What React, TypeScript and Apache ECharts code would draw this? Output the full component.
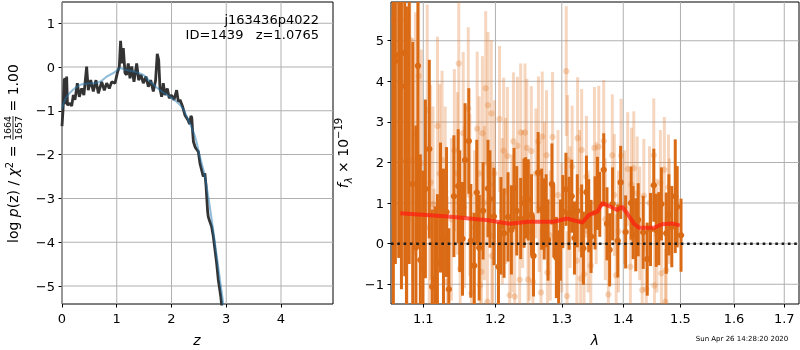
import React, { useEffect, useRef } from "react";
import * as echarts from "echarts";

// ---------- Left panel: redshift probability ----------
const zBlack = [0.0, 0.02, 0.04, 0.055, 0.07, 0.085, 0.1, 0.146, 0.177, 0.207, 0.237, 0.28, 0.316, 0.36, 0.4, 0.45, 0.48, 0.524, 0.572, 0.62, 0.664, 0.725, 0.773, 0.816, 0.864, 0.907, 0.968, 1.01, 1.047, 1.07, 1.096, 1.12, 1.151, 1.18, 1.21, 1.242, 1.273, 1.315, 1.364, 1.4, 1.443, 1.485, 1.534, 1.577, 1.62, 1.668, 1.71, 1.74, 1.766, 1.79, 1.82, 1.85, 1.88, 1.923, 1.96, 2.0, 2.046, 2.094, 2.125, 2.155, 2.204, 2.246, 2.3, 2.33, 2.355, 2.37, 2.385, 2.4, 2.43, 2.447, 2.49, 2.52, 2.55, 2.58, 2.61, 2.63, 2.66, 2.672, 2.7, 2.734, 2.764, 2.795, 2.825, 2.855, 2.9, 2.93];
const logpBlack = [-1.35, -0.95, -0.3, -0.26, -0.85, -0.22, -0.87, -0.83, -0.89, -0.64, -0.75, -0.37, -0.68, -0.49, -0.64, 0.01, -0.53, -0.3, -0.56, -0.3, -0.6, -0.34, -0.53, -0.37, -0.49, -0.34, -0.37, -0.14, 0.01, 0.6, 0.08, 0.43, -0.14, -0.18, 0.08, -0.26, 0.01, -0.34, 0.08, -0.3, -0.18, -0.37, -0.22, -0.45, -0.3, -0.56, -0.3, 0.3, 0.16, -0.49, -0.68, -0.37, -0.64, -0.49, -0.71, -0.64, -0.75, -0.53, -0.79, -0.75, -0.91, -1.1, -1.21, -1.3, -1.12, -1.15, -1.45, -1.7, -1.82, -1.86, -1.93, -2.2, -2.35, -2.5, -2.43, -2.7, -3.3, -3.42, -3.53, -3.65, -3.87, -4.18, -4.48, -4.86, -5.24, -5.6];
const zSmooth = [0, 0.085, 0.33, 0.57, 0.69, 0.816, 0.97, 1.06, 1.18, 1.33, 1.485, 1.6, 1.79, 2.03, 2.186, 2.307, 2.43, 2.52, 2.61, 2.7, 2.795, 2.886, 2.946, 2.96];
const logpSmooth = [-0.95, -0.68, -0.41, -0.37, -0.34, -0.22, -0.11, -0.03, -0.07, -0.11, -0.18, -0.32, -0.53, -0.73, -0.91, -1.21, -1.59, -2.05, -2.5, -3.19, -4.03, -4.86, -5.41, -5.6];
const zTicks = [0, 1, 2, 3, 4];
const logpTicks = [-5, -4, -3, -2, -1, 0, 1];

// ---------- Right panel: spectrum ----------
const darkLam = [1.061, 1.0636, 1.0679, 1.0714, 1.0757, 1.0779, 1.0815, 1.0861, 1.0903, 1.0929, 1.0961, 1.0996, 1.1028, 1.108, 1.1119, 1.1158, 1.1189, 1.1231, 1.1271, 1.1313, 1.1344, 1.1414, 1.1473, 1.1495, 1.1533, 1.1568, 1.1621, 1.1649, 1.1697, 1.1733, 1.1767, 1.1823, 1.1893, 1.1921, 1.1978, 1.2044, 1.208, 1.2125, 1.2184, 1.2233, 1.2273, 1.2312, 1.2371, 1.2421, 1.2445, 1.2485, 1.2534, 1.2564, 1.2634, 1.2688, 1.2727, 1.2757, 1.2786, 1.2846, 1.2875, 1.2915, 1.295, 1.2979, 1.3016, 1.3065, 1.3114, 1.3156, 1.32, 1.3245, 1.3315, 1.3343, 1.3392, 1.3429, 1.3467, 1.3532, 1.3571, 1.3609, 1.3674, 1.3728, 1.3772, 1.3821, 1.3907, 1.3956, 1.404, 1.4133, 1.4168, 1.4213, 1.4255, 1.4341, 1.4411, 1.4468, 1.4525, 1.4567, 1.4612, 1.4659, 1.4745, 1.4792, 1.4844, 1.4906, 1.4941, 1.501];
const darkFlux = [6.8, 4.5, 4.65, 3.88, 4.7, 2.04, 6.5, 1.47, -0.09, 4.38, -0.4, -0.6, 1.35, 2.33, -1.06, -0.88, -0.48, 0.89, 0.15, 0.78, -1.12, 1.17, 1.42, 0.8, 0.12, 2.06, 2.53, 0.07, -0.54, 1.26, -0.1, 0.81, 1.36, 1.1, 0.67, -0.57, 0.44, 0.26, 0.66, 0.34, 1.36, 0.81, 0.62, 1.0, 1.13, 1.08, 0.71, -0.3, 1.75, 0.85, 0.61, 0.81, 0.09, 1.47, 0.56, -0.34, -0.57, 0.09, 0.79, 1.34, 0.75, 1.17, 0.14, 0.81, 0.56, -0.11, 1.27, 0.69, 0.18, 0.76, 1.24, 0.97, 1.82, 0.49, -0.15, 0.98, 0.07, 1.51, 0.29, 1.0, 0.52, 0.22, 0.59, 0.28, -0.38, 0.35, 1.44, 0.33, 0.37, 0.98, 0.26, 0.71, 0.42, 1.17, 0.91, 0.21];
const darkErr = [8.5, 5.0, 5.0, 5.0, 5.5, 3.8, 7.0, 3.5, 3.0, 4.5, 2.6, 2.4, 2.2, 2.2, 1.9, 1.8, 1.7, 1.6, 1.7, 1.6, 1.5, 1.5, 1.4, 1.5, 1.4, 1.4, 1.3, 1.4, 1.3, 1.3, 1.3, 1.2, 1.2, 1.2, 1.2, 1.1, 1.2, 1.1, 1.1, 1.1, 1.0, 1.1, 1.0, 1.1, 1.0, 1.0, 1.0, 1.0, 1.0, 1.0, 1.0, 0.9, 1.0, 1.0, 0.9, 1.0, 0.9, 1.0, 0.9, 0.9, 0.9, 0.9, 0.9, 0.9, 0.9, 0.9, 0.9, 0.9, 0.9, 0.9, 0.9, 0.8, 0.9, 0.9, 0.9, 0.9, 0.9, 0.9, 0.9, 0.9, 0.9, 0.9, 0.9, 0.9, 0.9, 0.9, 0.9, 0.9, 0.9, 0.9, 1.0, 1.0, 1.0, 1.4, 1.0, 0.9];

const lightLam = [1.0584, 1.07, 1.0788, 1.0822, 1.0861, 1.0896, 1.0939, 1.0974, 1.1052, 1.1098, 1.113, 1.1144, 1.122, 1.1252, 1.1295, 1.1323, 1.1463, 1.1481, 1.1501, 1.1543, 1.1613, 1.1635, 1.1659, 1.1739, 1.1767, 1.1781, 1.1799, 1.1813, 1.186, 1.1884, 1.1893, 1.194, 1.1949, 1.1986, 1.2059, 1.2119, 1.2174, 1.2208, 1.2263, 1.2282, 1.2322, 1.2356, 1.2371, 1.2436, 1.2463, 1.2481, 1.253, 1.2555, 1.26, 1.2638, 1.2678, 1.2697, 1.2763, 1.2777, 1.2856, 1.307, 1.3082, 1.3091, 1.3163, 1.3238, 1.325, 1.3299, 1.3315, 1.3353, 1.3392, 1.3462, 1.3522, 1.3592, 1.3674, 1.3751, 1.3816, 1.3881, 1.3963, 1.4075, 1.4121, 1.4139, 1.4179, 1.4237, 1.4324, 1.4352, 1.4394, 1.4525, 1.4537, 1.4641, 1.4659, 1.4711, 1.4728, 1.4745, 1.4785,
  1.108, 1.119, 1.138, 1.142, 1.156, 1.17, 1.184, 1.196, 1.21, 1.215, 1.224, 1.24, 1.25, 1.265, 1.273, 1.282, 1.294, 1.3, 1.313, 1.328, 1.342, 1.355, 1.37, 1.385, 1.392, 1.402, 1.428, 1.445, 1.458, 1.48];
const lightFlux = [5.51, 5.51, 1.86, 5.03, 2.06, 2.7, 4.13, 1.98, 3.29, 1.51, 0.98, -0.85, 1.73, 2.06, 1.28, -0.94, 1.73, 4.44, -0.62, 2.72, 3.33, 1.2, -1.22, 2.83, 1.73, -1.03, -0.69, 2.72, 3.83, -1.43, 3.41, 3.21, -0.3, 1.73, 3.07, 2.29, 2.16, -1.27, 2.52, -1.3, 2.41, -0.89, 2.74, 2.74, 2.36, -0.88, 2.28, -0.94, 1.73, 2.52, -1.2, 2.64, 2.18, -0.71, 2.63, 4.25, -1.29, 2.06, 1.9, -0.42, 2.6, -0.86, 2.31, -0.75, 1.65, -0.54, 2.36, 2.39, 2.53, -1.25, 2.18, -0.78, 2.17, 1.84, -0.57, 1.46, 1.86, 1.24, -1.14, 1.18, -1.12, 2.18, -1.03, 1.5, -0.73, 1.82, -1.43, -0.65, 1.39,
  0.4, 2.9, 0.6, 2.3, 0.9, 0.4, 1.0, 0.2, 0.8, 1.3, 0.5, 1.1, 0.3, 0.9, 1.4, 0.2, 1.2, 0.4, 0.9, 1.3, 0.3, 1.0, 0.6, 1.2, 0.3, 0.9, 0.5, 1.0, 0.2, 0.8];
const lightErr = [5.0, 5.0, 3.5, 4.5, 3.0, 3.0, 3.0, 2.8, 2.6, 2.4, 2.4, 2.2, 2.2, 2.2, 2.1, 2.1, 2.0, 2.2, 2.0, 2.0, 2.0, 2.0, 2.0, 1.9, 1.9, 1.9, 1.9, 1.9, 1.9, 1.9, 1.8, 1.8, 1.8, 1.8, 1.8, 1.8, 1.7, 1.7, 1.7, 1.7, 1.7, 1.7, 1.7, 1.7, 1.7, 1.7, 1.6, 1.6, 1.6, 1.6, 1.6, 1.6, 1.6, 1.6, 1.6, 1.6, 1.6, 1.6, 1.5, 1.5, 1.5, 1.5, 1.5, 1.5, 1.5, 1.5, 1.5, 1.5, 1.5, 1.5, 1.5, 1.5, 1.4, 1.4, 1.4, 1.4, 1.4, 1.4, 1.4, 1.4, 1.4, 1.4, 1.4, 1.3, 1.3, 1.3, 1.3, 1.3, 1.3,
  2.3, 2.2, 2.0, 2.0, 2.0, 1.9, 1.9, 1.8, 1.8, 1.8, 1.7, 1.7, 1.7, 1.6, 1.6, 1.6, 1.6, 1.6, 1.5, 1.5, 1.5, 1.5, 1.5, 1.5, 1.5, 1.4, 1.4, 1.4, 1.4, 1.3];

const modelLam = [1.07, 1.1332, 1.1893, 1.2207, 1.2481, 1.2875, 1.3082, 1.3326, 1.3434, 1.3571, 1.3652, 1.3788, 1.3897, 1.3979, 1.4064, 1.4179, 1.4266, 1.4525, 1.4671, 1.4844, 1.4988];
const modelFlux = [0.75, 0.67, 0.58, 0.49, 0.54, 0.54, 0.62, 0.52, 0.71, 0.79, 1.0, 0.91, 0.83, 0.91, 0.75, 0.5, 0.39, 0.39, 0.48, 0.5, 0.45];

const lamTicks = [1.1, 1.2, 1.3, 1.4, 1.5, 1.6, 1.7];
const fluxTicks = [-1, 0, 1, 2, 3, 4, 5];

const FONT = "DejaVu Sans";
const GRID_COLOR = "#b0b0b0";
const LAM_MIN = 1.058;
const LAM_MAX = 1.7305;
const FLUX_MIN = -1.485;
const FLUX_MAX = 5.953;
const Z_MIN = 0;
const Z_MAX = 4.95;
const LP_MIN = -5.41;
const LP_MAX = 1.484;

const fmtMinus = (v: number) => (v < 0 ? "\u2212" + Math.abs(v) : String(v));

function errSeries(lam: number[], flux: number[], err: number[], color: string, z: number) {
  return {
    type: "custom",
    xAxisIndex: 1,
    yAxisIndex: 1,
    silent: true,
    z,
    clip: true,
    encode: { x: 0, y: 1 },
    data: lam.map((l, i) => [Math.log(l), flux[i], err[i]]),
    renderItem: (params: any, api: any) => {
      const x = api.value(0);
      const y = api.value(1);
      const e = api.value(2);
      const cs = params.coordSys;
      const top = api.coord([x, y + e]);
      const bot = api.coord([x, y - e]);
      const c = api.coord([x, y]);
      const y1 = Math.max(cs.y, top[1]);
      const y2 = Math.min(cs.y + cs.height, bot[1]);
      const children: any[] = [];
      if (y2 > y1) {
        children.push({
          type: "rect",
          shape: { x: c[0] - 1.5, y: y1, width: 3, height: y2 - y1 },
          style: { fill: color },
        });
      }
      if (c[1] >= cs.y && c[1] <= cs.y + cs.height) {
        children.push({
          type: "circle",
          shape: { cx: c[0], cy: c[1], r: 3.2 },
          style: { fill: color },
        });
      }
      return { type: "group", children };
    },
  };
}

function axisCommon() {
  return {
    axisLine: { show: false, onZero: false },
    splitLine: { show: false },
  };
}

export default function App() {
  const ref = useRef<HTMLDivElement>(null);
  useEffect(() => {
    if (!ref.current) return;
    const chart = echarts.init(ref.current, null, { renderer: "svg" });
    const lnLamTicks = lamTicks.map((t) => Math.log(t));
    const lnMin = Math.log(LAM_MIN);
    const lnMax = Math.log(LAM_MAX);
    const labelStyle = { fontFamily: FONT, fontSize: 13, color: "#000" };

    const textGraphics: any[] = [
      {
        type: "text", z: 10,
        style: { text: "j163436p4022", x: 319, y: 19, align: "right", verticalAlign: "middle", textAlign: "right", textVerticalAlign: "middle", font: `13px "${FONT}"`, fill: "#000" },
      },
      {
        type: "text", z: 10,
        style: { text: "ID=1439   z=1.0765", x: 319, y: 34, align: "right", verticalAlign: "middle", textAlign: "right", textVerticalAlign: "middle", font: `13px "${FONT}"`, fill: "#000" },
      },
      {
        type: "text", z: 10,
        style: { text: "z", x: 197, y: 340, align: "center", verticalAlign: "middle", textAlign: "center", textVerticalAlign: "middle", font: `italic 14px "${FONT}"`, fill: "#000" },
      },
      {
        type: "text", z: 10,
        style: { text: "λ", x: 595, y: 340, align: "center", verticalAlign: "middle", textAlign: "center", textVerticalAlign: "middle", font: `italic 14px "${FONT}"`, fill: "#000" },
      },
      {
        type: "text", z: 10,
        style: { text: "Sun Apr 26 14:28:20 2020", x: 742, y: 339, align: "center", verticalAlign: "middle", textAlign: "center", textVerticalAlign: "middle", font: `7px "${FONT}"`, fill: "#000" },
      },
      {
        type: "group", x: 13, y: 153, rotation: Math.PI / 2, z: 10,
        children: [
          {
            type: "text",
            style: {
              text: "{n|log }{i|p}{n|(z) / }{i|χ}{s|2}{n| = }",
              x: -90, y: 0, align: "left", verticalAlign: "middle", textAlign: "left", textVerticalAlign: "middle",
              fill: "#000",
              rich: {
                n: { fontFamily: FONT, fontSize: 14, lineHeight: 18, fill: "#000" },
                i: { fontFamily: FONT, fontSize: 14, fontStyle: "italic", lineHeight: 18, fill: "#000" },
                s: { fontFamily: FONT, fontSize: 10, lineHeight: 18, verticalAlign: "top", fill: "#000" },
              },
            },
          },
          {
            type: "text",
            style: { text: "1664", x: 25, y: -5.5, align: "center", verticalAlign: "middle", textAlign: "center", textVerticalAlign: "middle", font: `9.5px "${FONT}"`, fill: "#000" },
          },
          { type: "rect", shape: { x: 13, y: -0.4, width: 24, height: 0.8 }, style: { fill: "#000" } },
          {
            type: "text",
            style: { text: "1657", x: 25, y: 5.5, align: "center", verticalAlign: "middle", textAlign: "center", textVerticalAlign: "middle", font: `9.5px "${FONT}"`, fill: "#000" },
          },
          {
            type: "text",
            style: { text: " = 1.00", x: 37, y: 0, align: "left", verticalAlign: "middle", textAlign: "left", textVerticalAlign: "middle", font: `14px "${FONT}"`, fill: "#000" },
          },
        ],
      },
      {
        type: "group", x: 343, y: 153, rotation: Math.PI / 2, z: 10,
        children: [
          {
            type: "text",
            style: {
              text: "{i|f}{b|λ}{n| × 10}{s|−19}",
              x: 0, y: 0, align: "center", verticalAlign: "middle", textAlign: "center", textVerticalAlign: "middle",
              fill: "#000",
              rich: {
                n: { fontFamily: FONT, fontSize: 14, lineHeight: 20, fill: "#000" },
                i: { fontFamily: FONT, fontSize: 14, fontStyle: "italic", lineHeight: 20, fill: "#000" },
                b: { fontFamily: FONT, fontSize: 10, fontStyle: "italic", lineHeight: 20, verticalAlign: "bottom", fill: "#000" },
                s: { fontFamily: FONT, fontSize: 10, lineHeight: 20, verticalAlign: "top", fill: "#000" },
              },
            },
          },
        ],
      },
    ];

    const option: any = {
      animation: false,
      grid: [
        { left: 62, top: 2, width: 271, height: 302, show: true, borderColor: "#000", borderWidth: 1, backgroundColor: "transparent", z: 0 },
        { left: 391, top: 2, width: 408, height: 302, show: true, borderColor: "#000", borderWidth: 1, backgroundColor: "transparent", z: 0 },
      ],
      xAxis: [
        {
          type: "value", gridIndex: 0, min: Z_MIN, max: Z_MAX, ...axisCommon(),
          axisTick: { show: true, length: 3.5, customValues: zTicks, lineStyle: { color: "#000" } },
          axisLabel: { ...labelStyle, margin: 8, customValues: zTicks, formatter: (v: number) => fmtMinus(v) },
        },
        {
          type: "value", gridIndex: 1, min: lnMin, max: lnMax, ...axisCommon(),
          axisTick: { show: true, length: 3.5, customValues: lnLamTicks, lineStyle: { color: "#000" } },
          axisLabel: { ...labelStyle, margin: 8, customValues: lnLamTicks, formatter: (v: number) => Math.exp(v).toFixed(1) },
        },
      ],
      yAxis: [
        {
          type: "value", gridIndex: 0, min: LP_MIN, max: LP_MAX, ...axisCommon(),
          axisTick: { show: true, length: 3.5, customValues: logpTicks, lineStyle: { color: "#000" } },
          axisLabel: { ...labelStyle, margin: 7, customValues: logpTicks, formatter: (v: number) => fmtMinus(v) },
        },
        {
          type: "value", gridIndex: 1, min: FLUX_MIN, max: FLUX_MAX, ...axisCommon(),
          axisTick: { show: true, length: 3.5, customValues: fluxTicks, lineStyle: { color: "#000" } },
          axisLabel: { ...labelStyle, margin: 7, customValues: fluxTicks, formatter: (v: number) => fmtMinus(v) },
        },
      ],
      series: [
        {
          type: "line", xAxisIndex: 0, yAxisIndex: 0, z: 3, symbol: "none", silent: true,
          lineStyle: { color: "#333333", width: 2.8 },
          data: zBlack.map((z, i) => [z, logpBlack[i]]),
        },
        {
          type: "line", xAxisIndex: 0, yAxisIndex: 0, z: 4, symbol: "none", silent: true, smooth: 0.3,
          lineStyle: { color: "rgba(31,119,180,0.5)", width: 2 },
          data: zSmooth.map((z, i) => [z, logpSmooth[i]]),
        },
        errSeries(lightLam, lightFlux, lightErr, "rgba(226,118,40,0.3)", 2),
        errSeries(darkLam, darkFlux, darkErr, "#da6a14", 3),
        {
          type: "line", xAxisIndex: 1, yAxisIndex: 1, z: 5, symbol: "none", silent: true,
          lineStyle: { color: "rgba(255,25,15,0.7)", width: 4 },
          data: modelLam.map((l, i) => [Math.log(l), modelFlux[i]]),
        },
        {
          type: "line", xAxisIndex: 1, yAxisIndex: 1, z: 6, symbol: "none", silent: true,
          lineStyle: { color: "#1a1a1a", width: 2.4, type: [2.6, 3.7] },
          data: [[lnMin, 0], [lnMax, 0]],
        },
      ],
      graphic: textGraphics,
    };
    chart.setOption(option);

    // Grid lines placed through the chart's own axis scales.
    const gridGraphics: any[] = [];
    const addGrid = (gi: number, xt: number[], yt: number[], x0: number, x1: number, y0: number, y1: number) => {
      const finder = { xAxisIndex: gi, yAxisIndex: gi };
      xt.forEach((t) => {
        const a = chart.convertToPixel(finder, [t, y0]) as number[];
        const b = chart.convertToPixel(finder, [t, y1]) as number[];
        gridGraphics.push({
          type: "rect", z: 1, silent: true,
          shape: { x: a[0] - 0.5, y: Math.min(a[1], b[1]), width: 1, height: Math.abs(a[1] - b[1]) },
          style: { fill: GRID_COLOR },
        });
      });
      yt.forEach((t) => {
        const a = chart.convertToPixel(finder, [x0, t]) as number[];
        const b = chart.convertToPixel(finder, [x1, t]) as number[];
        gridGraphics.push({
          type: "rect", z: 1, silent: true,
          shape: { x: Math.min(a[0], b[0]), y: a[1] - 0.5, width: Math.abs(b[0] - a[0]), height: 1 },
          style: { fill: GRID_COLOR },
        });
      });
    };
    addGrid(0, zTicks, logpTicks, Z_MIN, Z_MAX, LP_MIN, LP_MAX);
    addGrid(1, lnLamTicks, fluxTicks, lnMin, lnMax, FLUX_MIN, FLUX_MAX);
    chart.setOption({ graphic: [...textGraphics, ...gridGraphics] });

    return () => chart.dispose();
  }, []);
  return <div ref={ref} style={{ position: "fixed", left: 0, top: 0, width: 800, height: 350 }} />;
}
